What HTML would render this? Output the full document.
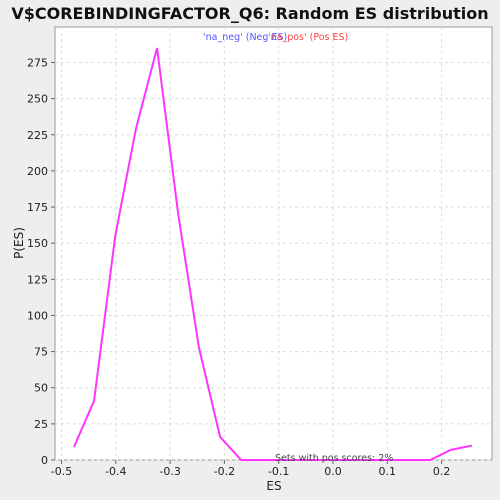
<!DOCTYPE html>
<html><head><meta charset="utf-8"><style>
body{margin:0;background:#eeeeee;}
svg{display:block;font-family:"DejaVu Sans","Liberation Sans",sans-serif;}
</style></head><body>
<svg id="chart" width="500" height="500">
<rect width="500" height="500" fill="#eeeeee"/>
<text x="250" y="19" text-anchor="middle" font-size="16" font-weight="bold" fill="#111">V$COREBINDINGFACTOR_Q6: Random ES distribution</text>
<rect x="55" y="27" width="437" height="433" fill="#fff" stroke="#999"/>
<g id="grid"></g><g id="axes"></g><g id="series"></g>
<text x="274" y="490" text-anchor="middle" font-size="12" fill="#222">ES</text>
<text x="23" y="243" text-anchor="middle" font-size="12" fill="#222" transform="rotate(-90 23 243)">P(ES)</text>
<text x="203" y="40" font-size="9.5" fill="#5555ff">'na_neg' (Neg ES)</text>
<text x="268" y="40" font-size="9.5" fill="#ff4444">'na_pos' (Pos ES)</text>
<text x="275" y="461" font-size="9.5" fill="#444">Sets with pos scores: 2%</text>
</svg>
<script>
const esValues=[-0.477,-0.440,-0.401,-0.363,-0.324,-0.285,-0.247,-0.208,-0.169,-0.131,-0.092,-0.054,-0.015,0.024,0.063,0.101,0.140,0.179,0.217,0.256];
const probValues=[9,41,155,229,285,170,78,16,0,0,0,0,0,0,0,0,0,0,7,10];
const xTicks=[-0.5,-0.4,-0.3,-0.2,-0.1,0.0,0.1,0.2];
const yTicks=[0,25,50,75,100,125,150,175,200,225,250,275];
const NS='http://www.w3.org/2000/svg';
const xs=v=>333+v*543, ys=v=>460-v*1.4455;
const grid=document.getElementById('grid'),axes=document.getElementById('axes'),ser=document.getElementById('series');
function mk(tag,a,p){const e=document.createElementNS(NS,tag);for(const k in a)e.setAttribute(k,a[k]);p.appendChild(e);return e;}
xTicks.forEach(t=>{const x=xs(t);
 const g=mk('line',{x1:x,x2:x,y1:27,y2:460,stroke:'#ddd','stroke-dasharray':'3,3'},grid);
 
 
 mk('line',{x1:x,x2:x,y1:460,y2:464,stroke:'#666'},axes);
 const l=mk('text',{x:x,y:475,'text-anchor':'middle','font-size':'11',fill:'#222'},axes);
 l.textContent=t.toFixed(1);
 
 });
yTicks.forEach(t=>{const y=ys(t);
 const g=mk('line',{x1:55,x2:492,y1:y,y2:y,stroke:'#ddd','stroke-dasharray':'3,3'},grid);
 
 
 mk('line',{x1:51,x2:55,y1:y,y2:y,stroke:'#666'},axes);
 const l=mk('text',{x:48,y:y+4,'text-anchor':'end','font-size':'11',fill:'#222'},axes);
 l.textContent=t;
 
 });
const pts=esValues.map((v,i)=>xs(v)+','+ys(probValues[i])).join(' ');
const pl=mk('polyline',{points:pts,fill:'none',stroke:'#ff33ff','stroke-width':'2'},ser);


</script>
</body></html>
